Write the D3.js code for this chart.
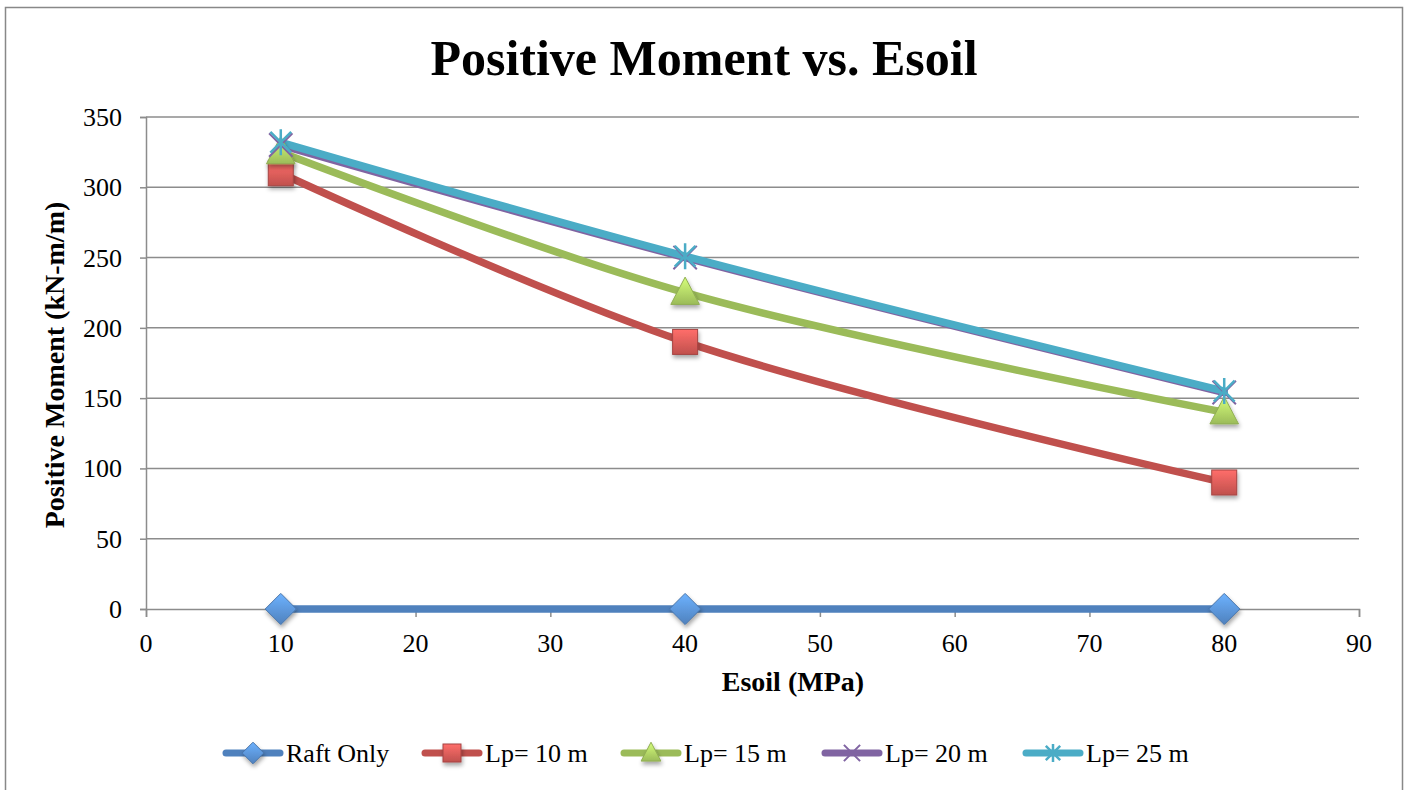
<!DOCTYPE html>
<html>
<head>
<meta charset="utf-8">
<script src="https://cdn.jsdelivr.net/npm/d3@7"></script>
<style>
  body { margin: 0; background: #fff; overflow: hidden; }
  svg { display: block; font-family: "Liberation Serif", "DejaVu Serif", serif; }
</style>
</head>
<body>
<div id="chart"></div>
<script>
const width = 1408, height = 790;
const margin = { left: 146, right: 49, top: 117, bottom: 181 };
const innerWidth = width - margin.left - margin.right;
const innerHeight = height - margin.top - margin.bottom;

// data
const esoil = [10, 40, 80];
const seriesNames = ["Raft Only", "Lp= 10 m", "Lp= 15 m", "Lp= 20 m", "Lp= 25 m"];
const raftOnly = [0, 0, 0];
const lp10 = [310, 190, 90];
const lp15 = [325, 225, 140];
const lp20 = [330, 250, 154];
const lp25 = [332, 251, 155];
const xTicks = [0, 10, 20, 30, 40, 50, 60, 70, 80, 90];
const yTicks = [0, 50, 100, 150, 200, 250, 300, 350];

const colors = ["#4F81BD", "#C0504D", "#9BBB59", "#8064A2", "#4BACC6"];
const markers = ["diamond", "square", "triangle", "x", "star"];
const allSeries = [raftOnly, lp10, lp15, lp20, lp25].map((vals, i) => ({
  name: seriesNames[i], color: colors[i], marker: markers[i],
  points: vals.map((v, j) => ({ x: esoil[j], y: v }))
}));

const svg = d3.select("#chart").append("svg")
  .attr("width", width).attr("height", height);

// gradients + shadow for markers
const defs = svg.append("defs");
colors.forEach((c, i) => {
  const g = defs.append("linearGradient").attr("id", "grad" + i)
    .attr("x1", 0).attr("y1", 0).attr("x2", 0).attr("y2", 1);
  g.append("stop").attr("offset", "0%").attr("stop-color", d3.color(c).brighter(0.9));
  g.append("stop").attr("offset", "100%").attr("stop-color", c);
});
const shadow = defs.append("filter").attr("id", "shadow")
  .attr("x", "-50%").attr("y", "-50%").attr("width", "200%").attr("height", "200%");
shadow.append("feDropShadow").attr("dx", 1).attr("dy", 3).attr("stdDeviation", 2)
  .attr("flood-color", "#000").attr("flood-opacity", 0.35);

// outer border (bottom edge is below the window)
svg.append("path")
  .attr("d", "M5.5,790V7.5H1402.5V790")
  .attr("fill", "none").attr("stroke", "#888").attr("stroke-width", 1.5);

// title
svg.append("text")
  .attr("x", 704).attr("y", 75)
  .attr("text-anchor", "middle")
  .attr("font-size", "50px").attr("font-weight", "bold")
  .text("Positive Moment vs. Esoil");

const chart = svg.append("g")
  .attr("transform", `translate(${margin.left},${margin.top})`);

const x = d3.scaleLinear().domain([0, 90]).range([0, innerWidth]);
const y = d3.scaleLinear().domain([0, 350]).range([innerHeight, 0]);

// gridlines
chart.append("g")
  .selectAll("line")
  .data(yTicks.filter(d => d > 0))
  .join("line")
  .attr("x1", 0).attr("x2", innerWidth)
  .attr("y1", d => y(d)).attr("y2", d => y(d))
  .attr("stroke", "#8c8c8c").attr("stroke-width", 1.5);

// axes (lines from d3.axis, labels drawn below)
const yAxis = chart.append("g")
  .call(d3.axisLeft(y).tickValues(yTicks).tickSize(6).tickFormat(""));
const xAxis = chart.append("g")
  .attr("transform", `translate(0,${innerHeight})`)
  .call(d3.axisBottom(x).tickValues(xTicks).tickSize(8).tickFormat(""));
[xAxis, yAxis].forEach(a => {
  a.selectAll("text").remove();
  a.select(".domain").attr("stroke", "#8c8c8c").attr("stroke-width", 1.5);
  a.selectAll(".tick line").attr("stroke", "#8c8c8c").attr("stroke-width", 1.5);
});

chart.append("g")
  .selectAll("text")
  .data(yTicks)
  .join("text")
  .attr("x", -24)
  .attr("y", d => y(d) + 9)
  .attr("text-anchor", "end")
  .attr("font-size", "26px")
  .text(d => d);

chart.append("g")
  .selectAll("text")
  .data(xTicks)
  .join("text")
  .attr("x", d => x(d))
  .attr("y", innerHeight + 43)
  .attr("text-anchor", "middle")
  .attr("font-size", "26px")
  .text(d => d);

// axis titles
chart.append("text")
  .attr("x", x(48)).attr("y", innerHeight + 82)
  .attr("text-anchor", "middle")
  .attr("font-size", "28px").attr("font-weight", "bold")
  .text("Esoil (MPa)");
chart.append("text")
  .attr("transform", `translate(${-82},${innerHeight / 2 + 2}) rotate(-90)`)
  .attr("text-anchor", "middle")
  .attr("font-size", "28px").attr("font-weight", "bold")
  .text("Positive Moment (kN-m/m)");

// marker drawing
function drawMarker(g, type, color, idx, size) {
  const s = size;
  if (type === "diamond") {
    g.append("path")
      .attr("d", `M0,${-s * 0.6}L${s * 0.6},0L0,${s * 0.6}L${-s * 0.6},0Z`)
      .attr("fill", `url(#grad${idx})`).attr("stroke", d3.color(color).darker(0.3)).attr("stroke-width", 1)
      .attr("filter", "url(#shadow)");
  } else if (type === "square") {
    g.append("rect")
      .attr("x", -s / 2).attr("y", -s / 2).attr("width", s).attr("height", s)
      .attr("fill", `url(#grad${idx})`).attr("stroke", d3.color(color).darker(0.4)).attr("stroke-width", 1)
      .attr("filter", "url(#shadow)");
  } else if (type === "triangle") {
    g.append("path")
      .attr("d", `M0,${-s * 0.6}L${s * 0.55},${s * 0.45}L${-s * 0.55},${s * 0.45}Z`)
      .attr("fill", `url(#grad${idx})`).attr("stroke", d3.color(color).darker(0.2)).attr("stroke-width", 1)
      .attr("filter", "url(#shadow)");
  } else if (type === "x") {
    const h = s * 0.45;
    g.append("path")
      .attr("d", `M${-h},${-h}L${h},${h}M${-h},${h}L${h},${-h}`)
      .attr("stroke", color).attr("stroke-width", 2).attr("fill", "none");
  } else if (type === "star") {
    const h = s * 0.5, d = s * 0.4;
    g.append("path")
      .attr("d", `M0,${-h}L0,${h}M${-d},${-d}L${d},${d}M${-d},${d}L${d},${-d}`)
      .attr("stroke", color).attr("stroke-width", 2.5).attr("fill", "none");
  }
}

// lines
const line = d3.line()
  .x(d => x(d.x)).y(d => y(d.y))
  .curve(d3.curveCatmullRom.alpha(0.5));

allSeries.forEach(s => {
  chart.append("path")
    .datum(s.points)
    .attr("d", line)
    .attr("fill", "none")
    .attr("stroke", s.color)
    .attr("stroke-width", 7.5)
    .attr("stroke-linecap", "round");
});

allSeries.forEach((s, i) => {
  s.points.forEach(p => {
    const g = chart.append("g").attr("transform", `translate(${x(p.x)},${y(p.y)})`);
    drawMarker(g, s.marker, s.color, i, i === 1 ? 25 : 26);
  });
});

// legend
const legendX = [223, 422, 621, 822, 1023];
const legend = svg.append("g").attr("transform", "translate(0,753)");
allSeries.forEach((s, i) => {
  const row = legend.append("g").attr("transform", `translate(${legendX[i]},0)`);
  row.append("line")
    .attr("x1", 3).attr("x2", 57).attr("y1", 0).attr("y2", 0)
    .attr("stroke", s.color).attr("stroke-width", 7).attr("stroke-linecap", "round");
  const m = row.append("g").attr("transform", "translate(30,0)");
  drawMarker(m, s.marker, s.color, i, 18);
  row.append("text")
    .attr("x", 63).attr("y", 9)
    .attr("font-size", "26px")
    .text(s.name);
});
</script>
</body>
</html>
